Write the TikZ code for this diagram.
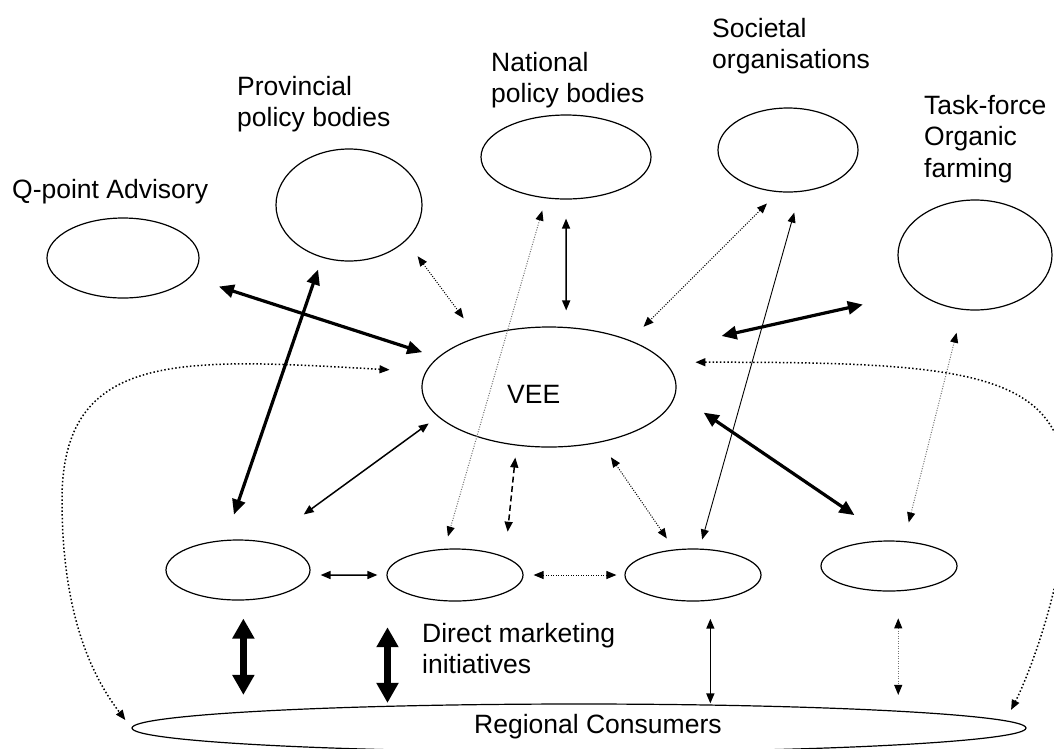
\documentclass[tikz,border=0pt]{standalone}
\usepackage{fontspec}
\setmainfont{Liberation Sans}
\usetikzlibrary{arrows.meta,shapes.geometric}
\newcommand{\labelfont}{\fontsize{26.5}{31.5}\selectfont}
\tikzset{%
	actor/.style    = {draw, ellipse, line width=1.2pt, inner sep=0pt}, % stakeholder
	caption/.style  = {inner sep=0pt, align=left, font=\labelfont}, % label
	link/.style     = {<->, >={Triangle[length=10pt,width=8pt]}, line width=1.5pt},
	thinlink/.style = {link, line width=0.9pt},
	heavy/.style    = {<->, >={Triangle[length=15pt,width=13pt]}, line width=3.2pt},
	massive/.style  = {<->, >={Triangle[length=20pt,width=21pt]}, line width=7.5pt},
	hint/.style     = {<->, >={Triangle[length=10pt,width=8pt,color=black]}, line width=1pt, dash pattern=on 1pt off 1.5pt},
	faint/.style    = {hint, draw=black!55},
	loose/.style    = {hint, line width=1.5pt, dash pattern=on 1.5pt off 2.2pt},
	dashy/.style    = {link, dash pattern=on 6pt off 3.5pt},
}

\begin{document}
\begin{tikzpicture}[x=1pt, y=-1pt]
	\useasboundingbox (0,0) rectangle (1054,748);

	% parties around the network
	\node[actor, minimum width=152pt, minimum height=80pt] (qpa) at (123,258) {};
	\node[actor, minimum width=146pt, minimum height=112pt] (prov) at (349,205) {};
	\node[actor, minimum width=170pt, minimum height=84pt] (nat) at (566,157) {};
	\node[actor, minimum width=140pt, minimum height=84pt] (soc) at (788,150) {};
	\node[actor, minimum width=154pt, minimum height=110pt] (task) at (975,255) {};
	\node[actor, minimum width=254pt, minimum height=120pt] (vee) at (549,387) {};
	\node[actor, minimum width=144pt, minimum height=60pt] (dmi1) at (238,570) {};
	\node[actor, minimum width=136pt, minimum height=52pt] (dmi2) at (455,575) {};
	\node[actor, minimum width=136pt, minimum height=52pt] (dmi3) at (693,575) {};
	\node[actor, minimum width=136pt, minimum height=50pt] (dmi4) at (889,566) {};
	\node[actor, minimum width=894pt, minimum height=48pt] (cons) at (579,728) {};

	\node[caption, anchor=base west] (qpaLbl) at (12,198) {Q-point Advisory};
	\node[caption, anchor=north west] (provLbl) at (237,76) {Provincial\\policy bodies};
	\node[caption, anchor=north west] (natLbl) at (491,52) {National\\policy bodies};
	\node[caption, anchor=north west] (socLbl) at (712,18) {Societal\\organisations};
	\node[caption, anchor=north west] (taskLbl) at (924,95) {Task-force\\Organic\\farming};
	\node[caption, anchor=base west] (veeLbl) at (507,403) {VEE};
	\node[caption, anchor=north west] (dmiLbl) at (422,623) {Direct marketing\\initiatives};
	\node[caption, anchor=base west] (consLbl) at (474,733) {Regional Consumers};

	% links to VEE
	\draw[heavy, shorten <=30pt, shorten >=16.5pt] (qpa.-16.6) -- (vee.165.4);
	\draw[hint, shorten <=19.3pt, shorten >=23.1pt] (prov.-32) -- (vee.145.8);
	\draw[link, shorten <=19pt, shorten >=16.5pt] (nat.south) -- (vee.74);
	\draw[hint, shorten <=16pt, shorten >=19pt] (soc.-103) -- (vee.30);
	\draw[heavy, shorten <=56pt, shorten >=71pt] (task.-147.4) -- (vee.19);

	% links down to the initiatives
	\draw[heavy, shorten <=12.6pt, shorten >=26.8pt] (prov.-117.3) -- (dmi1.113.2);
	\draw[faint, shorten <=12.7pt, shorten >=12.7pt] (nat.-116.7) -- (dmi2.112.1);
	\draw[thinlink, shorten <=21.4pt, shorten >=9.4pt] (soc.-74.1) -- (dmi3.76);
	\draw[faint, shorten <=23.6pt, shorten >=19.2pt] (task.-103.8) -- (dmi4.59.6);
	\draw[link, shorten <=11.3pt, shorten >=46.4pt] (vee.-165.2) -- (dmi1.45.1);
	\draw[dashy, shorten <=12pt, shorten >=25.2pt] (vee.-119.4) -- (dmi2.20);
	\draw[hint, shorten <=18pt, shorten >=13.3pt] (vee.-47.4) -- (dmi3.126.2);
	\draw[heavy, shorten <=33.7pt, shorten >=45pt] (vee.-3.75) -- (dmi4.84.7);

	% between the initiatives
	\draw[link, shorten <=11pt, shorten >=9pt] (dmi1.-4) -- (dmi2.west);
	\draw[hint, shorten <=10pt, shorten >=8pt] (dmi2.east) -- (dmi3.west);

	% to the consumers
	\draw[massive, shorten <=18pt, shorten >=8.5pt] (dmi1.-80.5) -- (dmi1.-80.5 |- cons.north);
	\draw[massive, shorten <=47.5pt, shorten >=0.5pt] (dmi2.-176.2) -- (dmi2.-176.2 |- cons.north);
	\draw[link, shorten <=18pt] (dmi3.-56) -- (dmi3.-56 |- cons.north);
	\draw[faint, shorten <=27pt, shorten >=8.5pt] (dmi4.-70) -- (dmi4.-70 |- cons.north);
	\draw[loose, shorten <=36pt, shorten >=10pt] (vee.173) .. controls (180,358) and (62,350) .. (62,500)
		.. controls (62,620) and (95,680) .. (cons.west);
	\draw[loose, shorten <=30pt, shorten >=12pt] (vee.12) .. controls (960,362) and (1060,370) .. (1066,480)
		.. controls (1071,568) and (1029,675) .. (cons.1);
\end{tikzpicture}
\end{document}
